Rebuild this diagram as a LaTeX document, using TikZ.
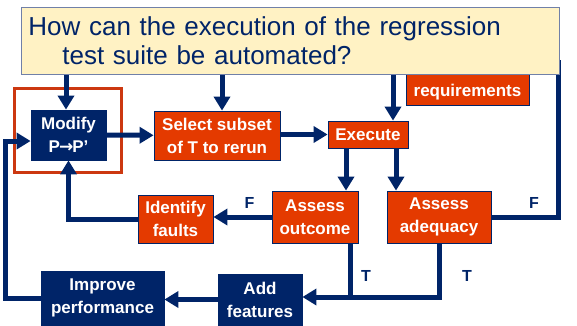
\documentclass[tikz,border=0pt]{standalone}
\usepackage{fontspec}
\setmainfont{Liberation Sans}
\newfontfamily\arrowfont{DejaVu Sans}
\usepackage{tikz}
\usetikzlibrary{arrows.meta}
\usetikzlibrary{calc}
\definecolor{navy}{RGB}{0,36,104}
\definecolor{flame}{RGB}{228,58,0}
\definecolor{rim}{RGB}{204,56,16}
\definecolor{memo}{RGB}{255,242,196}
\definecolor{memoline}{RGB}{112,128,168}
\colorlet{flowcolor}{navy}
\newcommand\boxfont{\bfseries\fontsize{17}{23}\selectfont}
\newcommand\becomes{{\arrowfont\bfseries →}}
\tikzstyle{box}=[draw=navy,line width=.8pt,text=white,font=\boxfont,align=center,inner sep=0pt]
\tikzstyle{redbox}=[box,fill=flame]
\tikzstyle{bluebox}=[box,fill=navy]
\tikzstyle{flowhead}=[>/.tip={Triangle[length=14pt,width=16pt]}]
\tikzstyle{wire}=[line width=5pt,draw=flowcolor]
\tikzstyle{flow}=[wire,flowhead,->]
\tikzstyle{tf}=[text=navy,font=\bfseries\fontsize{16}{16}\selectfont,inner sep=0pt]

\begin{document}
\begin{tikzpicture}[x=1pt,y=-1pt]
	\useasboundingbox (0,0) rectangle (577,325);
	% process boxes
	\node (mod) [bluebox,minimum width=75pt,minimum height=50pt] at (68.5,135) {Modify\\P\kern-1pt\becomes\kern-1pt P’};
	\node (focus) [draw=rim,line width=3pt,minimum width=107pt,minimum height=84pt] at (67.5,130) {};
	\node (sel) [redbox,minimum width=126pt,minimum height=49pt] at (217,135.5) {Select subset\\of T to rerun};
	\node (exe) [redbox,minimum width=80pt,minimum height=27pt] at (368,134.5) {Execute};
	\node (req) [redbox,minimum width=123pt,minimum height=56pt] at (467.5,77) {\rule{0pt}{42pt}requirements};
	\node (idf) [redbox,minimum width=75pt,minimum height=48pt] at (175.5,219) {Identify\\faults};
	\node (out) [redbox,minimum width=86pt,minimum height=52pt] at (315,217) {Assess\\outcome};
	\node (ade) [redbox,minimum width=104pt,minimum height=52pt] at (439,217) {Assess\\adequacy};
	\node (imp) [bluebox,minimum width=123pt,minimum height=54pt] at (102.5,298) {Improve\\performance};
	\node (add) [bluebox,minimum width=84pt,minimum height=51pt] at (260,299.5) {Add\\features};
	% loose ends under the question
	\coordinate (inmod) at (66,60);
	\coordinate (insel) at (222,60);
	\coordinate (inexe) at (393,60);
	\coordinate (rtop) at (558,60);
	\coordinate (loop) at (5,141);
	\coordinate (tjoin) at (350,297);
	\draw[flow] (inmod) -- (inmod |- mod.north);
	\draw[flow] (insel) -- (insel |- sel.north);
	\draw[flow] (inexe) -- (inexe |- exe.north);
	\draw[flow] (mod) -- (sel);
	\draw[flow] (sel.east |- exe.west) -- (exe.west);
	\draw[flow] ([xshift=-22pt]exe.south) -- ([xshift=-22pt]exe.south |- out.north);
	\draw[flow] ([xshift=28pt]exe.south) -- ([xshift=28pt]exe.south |- ade.north);
	\draw[flow] (out.west) --node[tf,above=6pt,xshift=7pt]{F} (out.west -| idf.east);
	\draw[flow] (idf.west) -| (mod.south);
	\draw[wire] (ade.east) -| (rtop);
	\draw[wire] (tjoin |- out.south) -- (tjoin);
	\draw[flow] (ade.south) |- (tjoin -| add.east);
	\draw[flow] (add.west) -- (add.west -| imp.east);
	\draw[flow] (imp.west) -| (loop) -- (loop -| mod.west);
	\node[tf] at (534,203) {F};
	\node[tf] at (366,276) {T};
	\node[tf] at (467,276) {T};
	% the question on top
	\node (quest) [fill=memo,draw=memoline,line width=.8pt,anchor=north west,text width=524pt,minimum height=67pt,inner xsep=7pt,inner ysep=5pt,align=left,text=navy,font=\fontsize{26}{29}\selectfont] at (21,7)
		{How can the execution of the regression\\\hspace*{34pt}test suite be automated?};
\end{tikzpicture}
\end{document}
